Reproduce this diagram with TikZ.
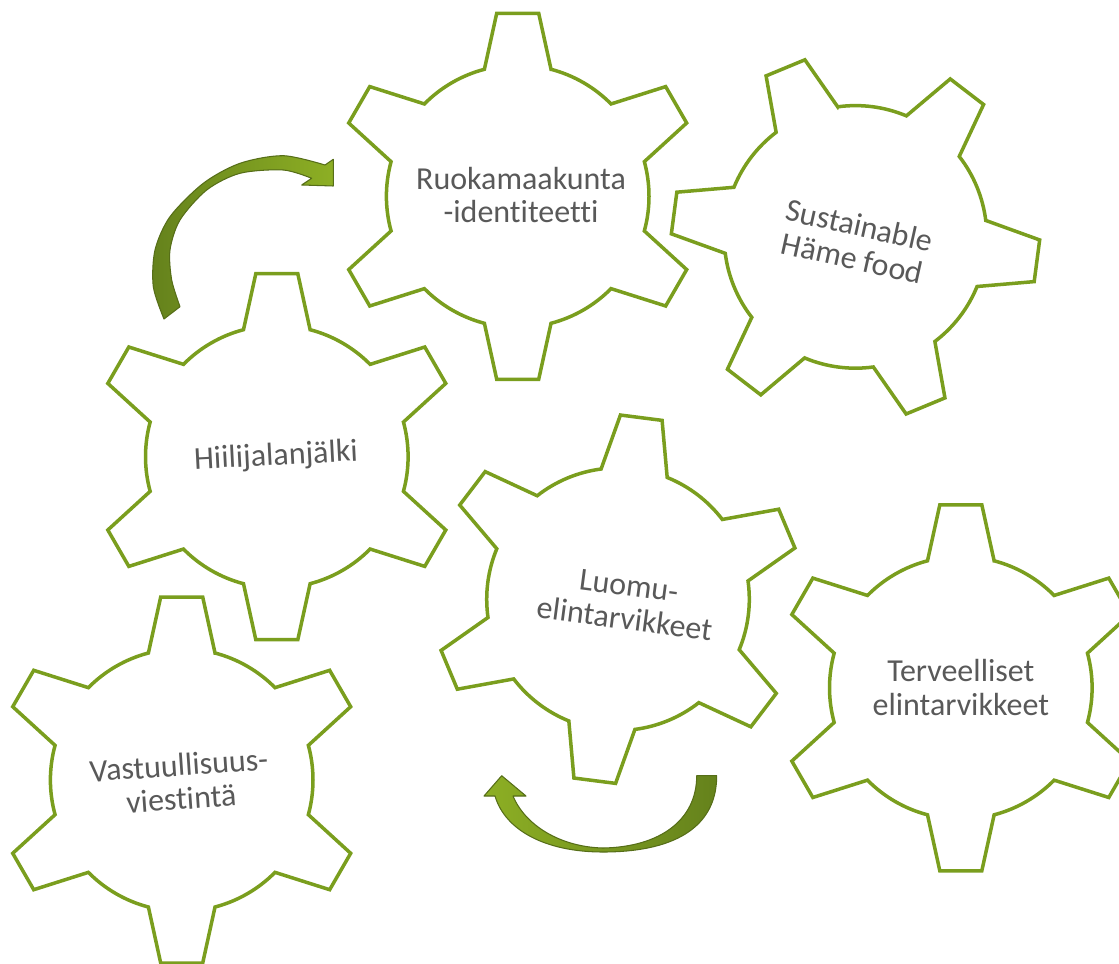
\documentclass[tikz,border=0pt]{standalone}
\usepackage{fontspec}
\setmainfont{Carlito}[Ligatures=NoCommon]

\definecolor{geargreen}{RGB}{122,158,30}
\definecolor{labelgrey}{RGB}{89,89,89}
\definecolor{arrowlight}{RGB}{141,175,36}
\definecolor{arrowdark}{RGB}{101,130,28}

\tikzset{
	gear/.style = {draw=geargreen, line width=0.035cm, fill=white, line join=miter},
	gearlabel/.style = {text=labelgrey, align=center, inner sep=0pt, font=\fontsize{9.1}{9.6}\selectfont},
	turnarrow/.style = {draw=arrowdark!85!black, line width=0.3pt, line join=round}
}

\begin{document}
\begin{tikzpicture}[x=0.01cm, y=0.01cm]
	\useasboundingbox (0,0) rectangle (1119,963);
	\clip (0,0) rectangle (1119,963);

	% gear x/y, gear turn, label x/y, label turn, name, text
	\foreach \gx/\gy/\grot/\lx/\ly/\lrot/\name/\txt in {
		517.7/766.7/0/521/768/0/ruoka/{Ruokamaakunta\\-identiteetti},
		855.5/726.1/22.5/855.8/721.3/-12.5/hame/{Sustainable\\Häme food},
		276.8/506.3/0/276/506.3/3/hiili/{Hiilijalanjälki},
		618/363.8/-7.3/626.7/360.5/-7.5/luomu/{Luomu-\\elintarvikkeet},
		960.8/275.2/0/960.8/275.5/0/terveys/{Terveelliset\\elintarvikkeet},
		181.7/183/0/180/181.3/4/vastuu/{Vastuullisuus-\\viestintä}}{
		\coordinate (\name) at (\gx,\gy);
		\begin{scope}[shift={(\name)}, rotate=\grot]
			\draw[gear] (75.3:131.3) foreach \a in {90,150,...,390} {
				-- ({\a-6.55}:184.2) -- ({\a+6.55}:184.2) -- ({\a+14.7}:131.3)
				arc[start angle=\a+14.7, delta angle=30.6, radius=131.3]} -- cycle;
		\end{scope}
		\node[gearlabel, rotate=\lrot] (\name-text) at (\lx,\ly) {\txt};
	}

	% curved arrow up to Ruokamaakunta
	\draw[turnarrow, left color=arrowdark, right color=arrowlight]
		(164,644) -- plot[smooth] coordinates {(164,644) (153.3,676.3) (155,713) (170,746.3) (203.3,779.7) (240,799.7) (283.3,807.3) (325,798)}
		-- (333.3,803.7) -- (333.3,777) -- (301.7,778) -- (311.7,784.7)
		-- plot[smooth] coordinates {(311.7,784.7) (283.3,793) (240,789.7) (206.7,773) (180,743) (170,713) (171.7,683) (180,656.3)}
		-- cycle;

	% curved arrow under Luomu
	\draw[turnarrow, left color=arrowlight, right color=arrowdark]
		(716.7,187.3) .. controls (716.7,133) and (670,111) .. (603,111)
		.. controls (545,111) and (505,133) .. (495,167)
		-- (484,167) -- (501.7,187.3) -- (526,167) -- (513,167)
		.. controls (525,138) and (560,116) .. (603,115)
		.. controls (660,116) and (696.7,143) .. (696.7,187.3) -- cycle;
\end{tikzpicture}
\end{document}
